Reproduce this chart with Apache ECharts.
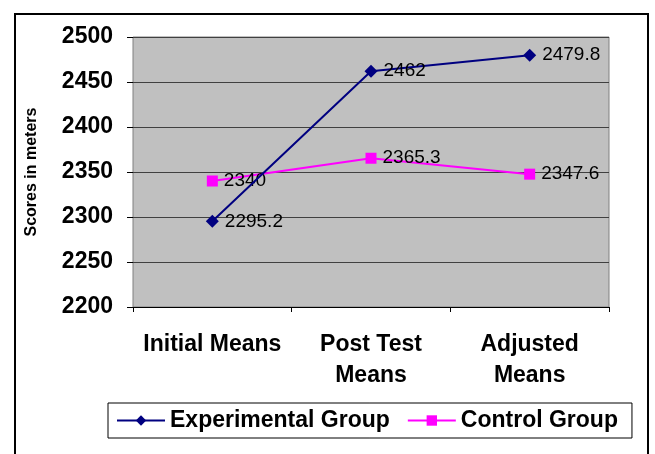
<!DOCTYPE html>
<html>
<head>
<meta charset="utf-8">
<script src="https://cdn.jsdelivr.net/npm/echarts@6/dist/echarts.min.js"></script>
<style>
  html, body { margin: 0; padding: 0; background: #fff; }
  #chart { width: 655px; height: 454px; }
</style>
</head>
<body>
<div id="chart"></div>
<script>
  const categories = ['Initial Means', 'Post Test\nMeans', 'Adjusted\nMeans'];
  const experimental = [2295.2, 2462, 2479.8];
  const control = [2340, 2365.3, 2347.6];
  const seriesNames = ['Experimental Group', 'Control Group'];

  const myChart = echarts.init(document.getElementById('chart'));

  const labelStyle = {
    show: true,
    position: 'right',
    distance: 6,
    color: '#000',
    fontSize: 19,
    fontFamily: 'Liberation Sans, Arial, sans-serif',
  };

  const option = {
    animation: false,
    textStyle: { fontFamily: 'Liberation Sans, Arial, sans-serif' },
    graphic: [
      {
        type: 'rect',
        shape: { x: 15, y: 14, width: 633, height: 460 },
        style: { fill: 'none', stroke: '#000', lineWidth: 2 },
        silent: true,
      },
    ],
    grid: {
      left: 133,
      right: 46,
      top: 37,
      bottom: 147,
      show: true,
      backgroundColor: '#C0C0C0',
      borderColor: '#808080',
      borderWidth: 1,
    },
    legend: {
      data: seriesNames,
      left: 108,
      top: 403,
      padding: [6, 14, 6, 8],
      itemGap: 17,
      itemWidth: 48,
      itemHeight: 13,
      borderColor: '#000',
      borderWidth: 1,
      textStyle: { fontSize: 23, fontWeight: 'bold', color: '#000' },
    },
    xAxis: {
      type: 'category',
      data: categories,
      boundaryGap: true,
      axisLine: { lineStyle: { color: '#000', width: 1 } },
      axisTick: { show: true, length: 5, lineStyle: { color: '#000' } },
      axisLabel: {
        interval: 0,
        hideOverlap: false,
        color: '#000',
        fontSize: 23,
        fontWeight: 'bold',
        lineHeight: 31,
        margin: 22,
      },
    },
    yAxis: {
      type: 'value',
      min: 2200,
      max: 2500,
      interval: 50,
      name: 'Scores in meters',
      nameLocation: 'middle',
      nameRotate: 90,
      nameGap: 93,
      nameTextStyle: { fontSize: 16, fontWeight: 'bold', color: '#000', padding: [0, 0, 0, 0] },
      axisLine: { show: false },
      axisTick: { show: true, length: 6, lineStyle: { color: '#000' } },
      axisLabel: {
        color: '#000',
        fontSize: 23,
        fontWeight: 'bold',
        margin: 20,
        formatter: (v) => String(v),
      },
      splitLine: { lineStyle: { color: '#404040', width: 1 } },
    },
    series: [
      {
        name: seriesNames[0],
        type: 'line',
        data: experimental,
        symbol: 'diamond',
        symbolSize: 13,
        color: '#000080',
        lineStyle: { color: '#000080', width: 2 },
        itemStyle: { color: '#000080' },
        label: labelStyle,
        z: 3,
      },
      {
        name: seriesNames[1],
        type: 'line',
        data: control,
        symbol: 'rect',
        symbolSize: 11,
        color: '#FF00FF',
        lineStyle: { color: '#FF00FF', width: 2 },
        itemStyle: { color: '#FF00FF' },
        label: labelStyle,
        z: 2,
      },
    ],
  };

  myChart.setOption(option);
</script>
</body>
</html>
